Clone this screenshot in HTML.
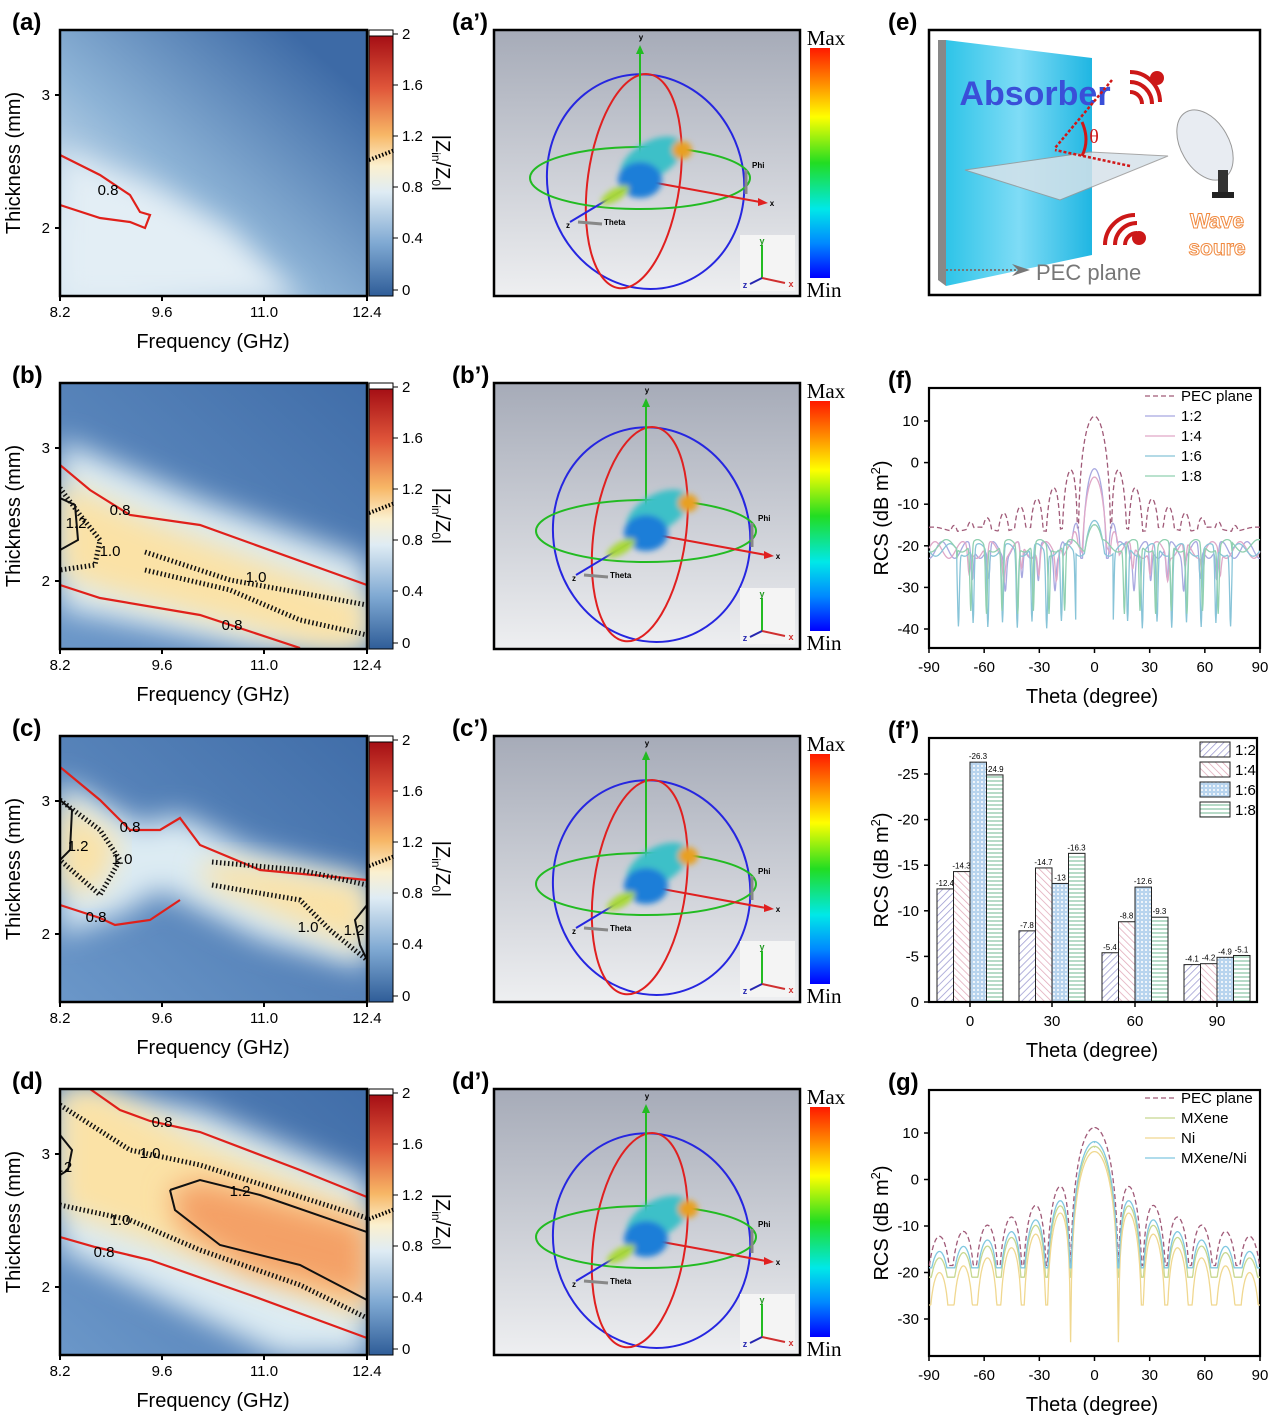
<!DOCTYPE html>
<html><head><meta charset="utf-8"><style>
html,body{margin:0;padding:0;background:#fff}
svg{display:block;font-family:"Liberation Sans",Arial,sans-serif}
</style></head><body>
<svg id="s" width="1270" height="1418" viewBox="0 0 1270 1418" xmlns="http://www.w3.org/2000/svg">
<defs>
<linearGradient id="cb" x1="0" y1="0" x2="0" y2="1">
<stop offset="0" stop-color="#a50f15"/><stop offset="0.2" stop-color="#e0563a"/><stop offset="0.38" stop-color="#f7b766"/><stop offset="0.5" stop-color="#fbf0cf"/><stop offset="0.6" stop-color="#dfecf4"/><stop offset="0.8" stop-color="#7ea8d2"/><stop offset="1" stop-color="#2f5d98"/></linearGradient>
<linearGradient id="rb" x1="0" y1="0" x2="0" y2="1">
<stop offset="0" stop-color="#ff1a00"/><stop offset="0.15" stop-color="#ff8a00"/><stop offset="0.3" stop-color="#ffff00"/><stop offset="0.5" stop-color="#22dd22"/><stop offset="0.7" stop-color="#00e8e8"/><stop offset="0.85" stop-color="#0088ff"/><stop offset="1" stop-color="#0000ff"/></linearGradient>
<linearGradient id="gbg" x1="0" y1="0" x2="0" y2="1"><stop offset="0" stop-color="#a6abb8"/><stop offset="1" stop-color="#eeeff1"/></linearGradient>
<linearGradient id="bg0" x1="0" y1="0.75" x2="0.75" y2="0"><stop offset="0" stop-color="#d6e6f1"/><stop offset="0.4" stop-color="#8db3d6"/><stop offset="1" stop-color="#3d6aa6"/></linearGradient>
<linearGradient id="bg1" x1="0" y1="1" x2="1" y2="0"><stop offset="0" stop-color="#6e9acb"/><stop offset="1" stop-color="#3d6aa6"/></linearGradient>
<filter id="bl" x="-20%" y="-20%" width="140%" height="140%"><feGaussianBlur stdDeviation="14"/></filter>
<filter id="bl2"><feGaussianBlur stdDeviation="3"/></filter>
<pattern id="p1" width="5" height="5" patternUnits="userSpaceOnUse" patternTransform="rotate(45)"><rect width="5" height="5" fill="#fff"/><line x1="0" y1="0" x2="0" y2="5" stroke="#9a98d0" stroke-width="1.5"/></pattern>
<pattern id="p2" width="5" height="5" patternUnits="userSpaceOnUse" patternTransform="rotate(-45)"><rect width="5" height="5" fill="#fff"/><line x1="0" y1="0" x2="0" y2="5" stroke="#e0a8b8" stroke-width="1.5"/></pattern>
<pattern id="p3" width="4" height="4" patternUnits="userSpaceOnUse"><rect width="4" height="4" fill="#b8d4ee"/><circle cx="2" cy="2" r="1" fill="#fff"/></pattern>
<pattern id="p4" width="4" height="4" patternUnits="userSpaceOnUse"><rect width="4" height="4" fill="#fff"/><line x1="0" y1="1" x2="4" y2="1" stroke="#9fcfb5" stroke-width="1.5"/></pattern>
<linearGradient id="slab" x1="0" y1="0" x2="1" y2="0"><stop offset="0" stop-color="#2ec4e8"/><stop offset="0.5" stop-color="#7fdcf6"/><stop offset="1" stop-color="#1fb6e2"/></linearGradient>
</defs>
<g id="root"></g>
</svg>
<script>
const root=document.getElementById('root');
let H='';
const T=(x,y,t,o={})=>{H+=`<text x="${x}" y="${y}" font-size="${o.fs||15}" text-anchor="${o.a||'middle'}" fill="${o.c||'#000'}" ${o.fw?'font-weight="bold"':''} ${o.st?`stroke="${o.st}" stroke-width="1"`:''} ${o.r?`transform="rotate(${o.r} ${x} ${y})"`:''} ${o.ff?`font-family="${o.ff}"`:''}>${t}</text>`};
const P=(pts)=>pts.map((p,i)=>(i?'L':'M')+p[0]+' '+p[1]).join(' ');
const panels=[
 {lab:'(a)',red:[[[60,155],[100,175],[130,195],[140,212],[150,215],[145,228],[130,222],[100,218],[60,205]]],rl:[[108,190,'0.8']]},
 {lab:'(b)',light:[[60,440],[200,500],[367,560],[367,648],[250,648],[60,610]],yel:[[60,480],[150,520],[367,600],[367,648],[320,648],[100,590],[60,575]],
  red:[[[60,465],[90,490],[130,515],[200,525],[367,585]],[[60,585],[100,598],[200,615],[300,648]]],
  blk:[[[60,498],[75,505],[78,540],[60,550]]],dash:[[[60,488],[80,515],[100,540],[95,565],[60,570]],[[145,552],[230,580],[367,605]],[[145,570],[230,590],[300,620],[367,635]]],
  rl:[[120,510,'0.8'],[232,625,'0.8'],[76,523,'1.2'],[110,551,'1.0'],[256,577,'1.0']]},
 {lab:'(c)',light:[[60,780],[140,825],[180,815],[250,850],[367,880],[367,970],[260,940],[160,890],[120,915],[60,935]],yel:[[60,800],[120,840],[100,890],[60,890]],yel2:[[210,860],[367,885],[367,950],[300,925],[200,880]],
  red:[[[60,767],[100,800],[130,830],[160,830],[180,818],[200,845],[260,870],[367,880]],[[60,905],[100,918],[115,925],[150,920],[180,900]]],
  blk:[[[60,800],[72,810],[70,850],[60,860]],[[367,905],[355,920],[360,945],[367,960]]],dash:[[[60,800],[100,830],[120,860],[100,895],[60,860]],[[212,862],[300,870],[367,885]],[[212,885],[300,900],[330,930],[367,960]]],
  rl:[[130,827,'0.8'],[96,917,'0.8'],[78,846,'1.2'],[122,859,'1.0'],[308,927,'1.0'],[354,930,'1.2']]},
 {lab:'(d)',light:[[60,1089],[200,1110],[367,1180],[367,1356],[280,1356],[60,1250]],yel:[[60,1089],[100,1089],[200,1140],[367,1210],[367,1320],[200,1260],[60,1210]],org:[[170,1190],[200,1180],[367,1225],[367,1300],[250,1270],[180,1230]],
  red:[[[90,1089],[120,1110],[150,1121],[200,1132],[300,1170],[367,1197]],[[60,1237],[95,1247],[150,1260],[250,1295],[367,1338]]],
  blk:[[[60,1135],[72,1150],[68,1170],[60,1175]],[[170,1190],[200,1180],[260,1195],[367,1232]],[[170,1190],[175,1210],[220,1245],[300,1265],[367,1300]]],
  dash:[[[60,1105],[130,1150],[200,1165],[367,1218]],[[60,1205],[130,1220],[200,1250],[300,1285],[367,1318]]],
  rl:[[162,1122,'0.8'],[104,1252,'0.8'],[240,1191,'1.2'],[150,1153,'1.0'],[120,1220,'1.0'],[66,1167,'.2']]}
];
panels.forEach((p,i)=>{
 const dy=i*353;
 H+=`<clipPath id="c${i}"><rect x="60" y="${30+dy}" width="307" height="266"/></clipPath><g clip-path="url(#c${i})">`;
 H+=`<rect x="40" y="${10+dy}" width="350" height="310" fill="url(#bg1)"/>`;
 const sh=(pts,c)=>{H+=`<path d="${P(pts)}Z" fill="${c}" filter="url(#bl)"/>`};
 if(i==0){H+=`<rect x="60" y="30" width="307" height="266" fill="url(#bg0)"/>`;sh([[60,150],[150,185],[230,230],[300,300],[60,300]],'#e3eef5');}
 else{ if(p.light)sh(p.light,'#dcebf3'); if(p.yel)sh(p.yel,'#fbe2a6'); if(p.yel2)sh(p.yel2,'#fbe2a6'); if(p.org)sh(p.org,'#f4a066');}
 (p.red||[]).forEach(l=>H+=`<path d="${P(l)}" fill="none" stroke="#e0201a" stroke-width="2.2"/>`);
 (p.blk||[]).forEach(l=>H+=`<path d="${P(l)}" fill="none" stroke="#111" stroke-width="2"/>`);
 (p.dash||[]).forEach(l=>H+=`<path d="${P(l)}" fill="none" stroke="#111" stroke-width="5" stroke-dasharray="1.5 2.5"/>`);
 H+=`</g>`;
 (p.rl||[]).forEach(r=>T(r[0],r[1]+5,r[2],{fs:15}));
 H+=`<rect x="60" y="${30+dy}" width="307" height="266" fill="none" stroke="#000" stroke-width="2.5"/>`;
 [[60,'8.2'],[162,'9.6'],[264,'11.0'],[367,'12.4']].forEach(t=>{H+=`<line x1="${t[0]}" y1="${296+dy}" x2="${t[0]}" y2="${301+dy}" stroke="#000" stroke-width="2"/>`;T(t[0],317+dy,t[1]);});
 [[95,'3'],[228,'2']].forEach(t=>{H+=`<line x1="55" y1="${t[0]+dy}" x2="60" y2="${t[0]+dy}" stroke="#000" stroke-width="2"/>`;T(50,t[0]+5+dy,t[1],{a:'end'});});
 T(213,348+dy,'Frequency (GHz)',{fs:20});
 T(20,163+dy,'Thickness (mm)',{fs:20,r:-90});
 T(12,30+dy,p.lab,{fs:24,fw:1,a:'start'});
 H+=`<rect x="369" y="${30+dy}" width="24" height="6" fill="#fff" stroke="#000"/><rect x="369" y="${36+dy}" width="24" height="260" fill="url(#cb)" stroke="#000"/>`;
 [[34,'2'],[85,'1.6'],[136,'1.2'],[187,'0.8'],[238,'0.4'],[290,'0']].forEach(t=>{H+=`<line x1="393" y1="${t[0]+dy}" x2="398" y2="${t[0]+dy}" stroke="#000"/>`;T(402,t[0]+5+dy,t[1],{a:'start'});});
 H+=`<line x1="369" y1="${160+dy}" x2="395" y2="${150+dy}" stroke="#000" stroke-width="4" stroke-dasharray="1.5 2"/>`;
 T(436,163+dy,'|Z<tspan font-size="12" dy="4">in</tspan><tspan dy="-4">/Z</tspan><tspan font-size="12" dy="4">0</tspan><tspan dy="-4">|</tspan>',{fs:20,r:90});
 const by=30+dy;
 T(452,by,p.lab.replace(')','’)'),{fs:24,fw:1,a:'start'});
 H+=`<rect x="494" y="${by}" width="306" height="266" fill="url(#gbg)" stroke="#000" stroke-width="2.5"/>`;
 const cx=640+(i>0?6:0),cy=by+150;
 H+=`<ellipse cx="${cx+5}" cy="${cy+3}" rx="98" ry="108" fill="none" stroke="#2626e0" stroke-width="2" transform="rotate(-15 ${cx} ${cy})"/>`;
 H+=`<ellipse cx="${cx-6}" cy="${cy+2}" rx="46" ry="108" fill="none" stroke="#e02020" stroke-width="2" transform="rotate(8 ${cx} ${cy})"/>`;
 H+=`<ellipse cx="${cx}" cy="${cy-2}" rx="110" ry="31" fill="none" stroke="#22bb22" stroke-width="2"/>`;
 H+=`<line x1="${cx}" y1="${cy}" x2="${cx}" y2="${by+22}" stroke="#22bb22" stroke-width="2"/><polygon points="${cx-4},${by+24} ${cx+4},${by+24} ${cx},${by+15}" fill="#22bb22"/>`;
 T(cx+1,by+10,'y',{fs:8,fw:1});
 H+=`<line x1="${cx}" y1="${cy}" x2="${cx+120}" y2="${cy+22}" stroke="#e02020" stroke-width="2"/><polygon points="${cx+118},${cy+18} ${cx+118},${cy+26} ${cx+128},${cy+23}" fill="#e02020"/>`;
 T(cx+132,cy+26,'x',{fs:8,fw:1});
 H+=`<line x1="${cx}" y1="${cy}" x2="${cx-70}" y2="${cy+42}" stroke="#2626e0" stroke-width="2"/>`;
 T(cx-72,cy+48,'z',{fs:8,fw:1});
 H+=`<line x1="${cx-62}" y1="${cy+42}" x2="${cx-38}" y2="${cy+44}" stroke="#888" stroke-width="3"/>`;
 T(cx-36,cy+45,'Theta',{fs:8,fw:1,a:'start'});
 H+=`<line x1="${cx+106}" y1="${cy+14}" x2="${cx+106}" y2="${cy-10}" stroke="#888" stroke-width="3"/>`;
 T(cx+112,cy-12,'Phi',{fs:8,fw:1,a:'start'});
 H+=`<g filter="url(#bl2)"><ellipse cx="${cx+20}" cy="${cy-12}" rx="34" ry="18" fill="#3cc0c8" transform="rotate(-30 ${cx} ${cy})"/><ellipse cx="${cx}" cy="${cy}" rx="22" ry="18" fill="#1c7ed8"/><ellipse cx="${cx-25}" cy="${cy+15}" rx="16" ry="6" fill="#a8d838" transform="rotate(-30 ${cx-25} ${cy+15})"/><ellipse cx="${cx+42}" cy="${cy-30}" rx="10" ry="9" fill="#e8a020"/></g>`;
 H+=`<rect x="740" y="${by+205}" width="55" height="56" fill="#f4f4f4"/><line x1="762" y1="${by+248}" x2="762" y2="${by+215}" stroke="#22bb22" stroke-width="2"/><line x1="762" y1="${by+248}" x2="785" y2="${by+253}" stroke="#d03030" stroke-width="2"/><line x1="762" y1="${by+248}" x2="750" y2="${by+254}" stroke="#2626b0" stroke-width="2"/>`;
 T(762,by+214,'y',{fs:9,fw:1,c:'#229922'});T(791,by+257,'x',{fs:9,fw:1,c:'#d03030'});T(745,by+258,'z',{fs:9,fw:1,c:'#2626b0'});
 H+=`<rect x="810" y="${by+18}" width="20" height="230" fill="url(#rb)"/>`;
 T(826,by+15,'Max',{fs:21,ff:'Liberation Serif'});T(824,by+267,'Min',{fs:21,ff:'Liberation Serif'});
});
T(888,30,'(e)',{fs:24,fw:1,a:'start'});
H+=`<rect x="929" y="30" width="331" height="265" fill="#fff" stroke="#000" stroke-width="2.5"/>`;
H+=`<polygon points="938,40 946,40 946,286 938,280" fill="#888"/><polygon points="946,40 1092,58 1092,255 946,286" fill="url(#slab)"/>`;
H+=`<polygon points="965,170 1090,152 1168,156 1060,200" fill="#d6e2ea" opacity="0.85" stroke="#999"/>`;
T(1035,105,'Absorber',{fs:34,fw:1,c:'#3a4fd8'});
H+=`<path d="M1112,80 L1055,148 M1130,166 L1055,150" stroke="#d01818" stroke-width="2.5" stroke-dasharray="3 2"/>`;
H+=`<path d="M1082,122 Q1090,140 1082,156" fill="none" stroke="#d01818" stroke-width="3"/>`;
T(1094,143,'θ',{fs:20,c:'#d01818',ff:'Liberation Serif'});
H+=`<g fill="none" stroke="#cc1818" stroke-width="4"><path d="M1130,72 a30 30 0 0 1 30,30"/><path d="M1130,82 a22 22 0 0 1 22,22"/><path d="M1130,92 a12 12 0 0 1 12,12"/><path d="M1105,245 a30 30 0 0 1 30,-30"/><path d="M1115,245 a22 22 0 0 1 22,-22"/><path d="M1125,245 a12 12 0 0 1 12,-12"/></g>`;
H+=`<circle cx="1157" cy="78" r="7" fill="#cc1818"/><circle cx="1139" cy="238" r="7" fill="#cc1818"/>`;
H+=`<ellipse cx="1205" cy="145" rx="24" ry="38" fill="#e8ecf2" stroke="#999" transform="rotate(-30 1205 145)"/><rect x="1218" y="170" width="10" height="25" fill="#333"/><rect x="1212" y="192" width="22" height="6" fill="#222"/>`;
T(1217,228,'Wave',{fs:21,fw:1,c:'#fff',st:'#f08a40'});T(1217,255,'soure',{fs:21,fw:1,c:'#fff',st:'#f08a40'});
H+=`<line x1="946" y1="270" x2="1022" y2="270" stroke="#777" stroke-width="2" stroke-dasharray="2 2"/><polygon points="1012,264 1030,270 1012,276 1018,270" fill="#777"/>`;
T(1036,280,'PEC plane',{fs:22,c:'#777',a:'start'});
function lineplot(lab,y0,yt,yfn,ylabs,series,leg){
 T(888,y0,lab,{fs:24,fw:1,a:'start'});
 H+=`<rect x="929" y="${y0}" width="331" height="${yt}" fill="#fff" stroke="#000" stroke-width="2.2"/>`;
 series.forEach(s=>{let d='';for(let t=-90;t<=90;t+=0.25){const X=1094.5+t*1.839;let v=s.f(t);let Y=Math.min(y0+yt,Math.max(y0,yfn(v)));d+=(d?'L':'M')+X.toFixed(1)+' '+Y.toFixed(1);}H+=`<path d="${d}" fill="none" stroke="${s.c}" stroke-width="1.3" ${s.d?'stroke-dasharray="5 3"':''}/>`;});
 ylabs.forEach(v=>{const Y=yfn(v);H+=`<line x1="924" y1="${Y}" x2="929" y2="${Y}" stroke="#000" stroke-width="1.5"/>`;T(919,Y+5,v,{a:'end'});});
 [-90,-60,-30,0,30,60,90].forEach(t=>{const X=1094.5+t*1.839;H+=`<line x1="${X}" y1="${y0+yt}" x2="${X}" y2="${y0+yt+5}" stroke="#000" stroke-width="1.5"/>`;T(X,y0+yt+24,t);});
 T(1092,y0+yt+55,'Theta (degree)',{fs:20});
 T(888,y0+yt/2,'RCS (dB m<tspan font-size="13" dy="-8">2</tspan><tspan dy="8">)</tspan>',{fs:20,r:-90});
 leg.forEach((l,k)=>{const Y=y0+8+k*20;H+=`<line x1="1145" y1="${Y}" x2="1175" y2="${Y}" stroke="${l[1]}" stroke-width="1.3" ${l[2]?'stroke-dasharray="5 3"':''}/>`;T(1181,Y+5,l[0],{a:'start'});});
}
const sinc=(t,p,fl)=>{const x=Math.PI*t/p;return x==0?1:Math.abs(Math.sin(x)/x)+fl;};
const db=v=>20*Math.log10(v);
const dip=(t,p,ph,amp,w)=>{const m=((Math.abs(t)+ph)%p+p)%p-p/2;return amp*Math.exp(-m*m/w);};
const yF=v=>462.6-4.16*v;
lineplot('(f)',388,260,yF,[10,0,-10,-20,-30,-40],[
 {c:'#a05a78',d:1,f:t=>Math.max(-16-0.5*Math.cos(t/4),11+db(sinc(t,9,0.012)))},
 {c:'#a8a8e0',f:t=>Math.max(-21+2*Math.cos(t/2.2),-1.5+db(sinc(t,7,0.004)))-(Math.abs(t)>15&&Math.abs(t)<70?dip(t,9,1,8,0.8):0)},
 {c:'#e0a8c8',f:t=>Math.max(-21+2*Math.sin(t/2.4),-3.5+db(sinc(t,7.5,0.004)))-(Math.abs(t)>15&&Math.abs(t)<70?dip(t,9.5,3,6,0.8):0)},
 {c:'#88c4d8',f:t=>Math.max(-21+1.5*Math.cos(t/2.5),-14+db(sinc(t,8,0.01)))-(Math.abs(t)>10&&Math.abs(t)<75?dip(t,8,2,18,0.5):0)},
 {c:'#90d0b0',f:t=>Math.max(-20+1.5*Math.sin(t/2.7),-15+db(sinc(t,8.5,0.01)))-(Math.abs(t)>10&&Math.abs(t)<75?dip(t,8.5,5,16,0.5):0)}
],[['PEC plane','#a05a78',1],['1:2','#a8a8e0'],['1:4','#e0a8c8'],['1:6','#88c4d8'],['1:8','#90d0b0']]);
const yG=v=>1179.5-4.65*v;
lineplot('(g)',1090,266,yG,[10,0,-10,-20,-30],[
 {c:'#a05a78',d:1,f:t=>Math.max(-18.5,11+db(sinc(t,13,0.02)))},
 {c:'#c8d890',f:t=>Math.max(-21,7+db(sinc(t,13,0.015)))},
 {c:'#f0d890',f:t=>Math.max(Math.abs(t)<17?-35:-27,6+db(sinc(t,13,0.001)))},
 {c:'#80c8e0',f:t=>Math.max(-19,8+db(sinc(t,13,0.018)))}
],[['PEC plane','#a05a78',1],['MXene','#c8d890'],['Ni','#f0d890'],['MXene/Ni','#80c8e0']]);
T(888,738,'(f’)',{fs:24,fw:1,a:'start'});
const by0=1002,sc=9.12;
const data=[[12.4,14.3,26.3,24.9],[7.8,14.7,13,16.3],[5.4,8.8,12.6,9.3],[4.1,4.2,4.9,5.1]];
const cxs=[970,1052,1135,1217];const pats=['url(#p1)','url(#p2)','url(#p3)','url(#p4)'];
data.forEach((g,gi)=>g.forEach((v,k)=>{const x=cxs[gi]-33+k*16.5;const h=v*sc;H+=`<rect x="${x}" y="${by0-h}" width="16.5" height="${h}" fill="${pats[k]}" stroke="#222" stroke-width="1"/>`;T(x+8,by0-h-3,'-'+v,{fs:8});}));
H+=`<rect x="929" y="738" width="328" height="264" fill="none" stroke="#000" stroke-width="2.2"/>`;
[0,-5,-10,-15,-20,-25].forEach(v=>{const Y=by0+v*sc;H+=`<line x1="924" y1="${Y}" x2="929" y2="${Y}" stroke="#000" stroke-width="1.5"/>`;T(919,Y+5,v,{a:'end'});});
['0','30','60','90'].forEach((t,k)=>{H+=`<line x1="${cxs[k]}" y1="1002" x2="${cxs[k]}" y2="1007" stroke="#000" stroke-width="1.5"/>`;T(cxs[k],1026,t);});
T(1092,1057,'Theta (degree)',{fs:20});
T(888,870,'RCS (dB m<tspan font-size="13" dy="-8">2</tspan><tspan dy="8">)</tspan>',{fs:20,r:-90});
['1:2','1:4','1:6','1:8'].forEach((l,k)=>{const Y=742+k*20;H+=`<rect x="1200" y="${Y}" width="30" height="15" fill="${pats[k]}" stroke="#222"/>`;T(1235,Y+13,l,{a:'start'});});
root.innerHTML=H;
</script>
</body></html>
